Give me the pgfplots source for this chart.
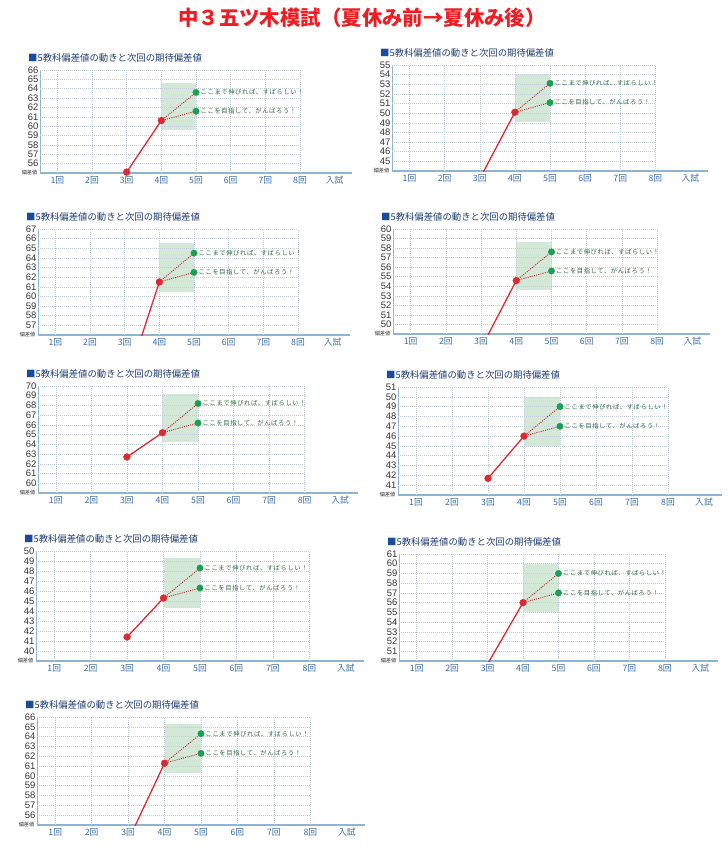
\documentclass[border=0pt]{standalone}
\usepackage{pgfplots}
\pgfplotsset{compat=1.18}
\usepackage{fontspec}
\setmainfont{Liberation Sans}
\newfontfamily\cjk{Noto Sans CJK JP}
\newfontfamily\cjksp{Noto Sans CJK JP}[LetterSpace=10]
\definecolor{gridc}{HTML}{C3CEDA}
\definecolor{axc}{HTML}{8FB3D3}
\definecolor{redc}{HTML}{DD2A30}
\definecolor{grc}{HTML}{17A04F}
\definecolor{boxc}{HTML}{D4E8D7}
\definecolor{txtg}{HTML}{2F6A3D}
\definecolor{xlab}{HTML}{3A6CA3}
\definecolor{ttl}{HTML}{1E3C70}
\definecolor{sq}{HTML}{1A4C9E}
\definecolor{titlered}{HTML}{EE1D23}
\definecolor{ylab}{HTML}{333333}
\pgfplotsset{
 panel/.style={anchor=north west, scale only axis, xmin=0.5, xmax=9.5,
  axis lines*=left,
  x axis line style={axc, line width=1.6bp},
  y axis line style={axc, line width=0.9bp},
  xtick={1,...,9},
  xticklabels={1回,2回,3回,4回,5回,6回,7回,8回,入試},
  major tick length=0,
  /pgf/number format/assume math mode=true,
  xticklabel style={font=\cjk\fontsize{8.8}{9}\selectfont, text=xlab},
  yticklabel style={font=\fontsize{9.5}{9.5}\selectfont, text=ylab, inner sep=1.5bp},
 },
}
\tikzset{
 gridl/.style={gridc, line width=0.5bp, dash pattern=on 1bp off 1bp},
 redl/.style={color=redc, line width=1.3bp, no marks},
 dotl/.style={color=redc!85!black, line width=0.9bp, dash pattern=on 1bp off 1.2bp, no marks},
 redm/.style={only marks, mark=*, mark size=3.4bp, color=redc},
 grm/.style={only marks, mark=*, mark size=3.2bp, color=grc},
 lab/.style={anchor=west, xshift=3.5bp, inner sep=1bp, font=\cjksp\fontsize{6.3}{6.5}\selectfont, text=txtg},
 ptitle/.style={anchor=west, inner sep=0pt, font=\cjk\fontsize{9.4}{10}\selectfont, text=ttl},
 hens/.style={anchor=east, inner sep=0.5bp, xshift=-2bp, font=\cjk\fontsize{5.2}{5.5}\selectfont, text=ylab},
}
\newcommand\grid[3]{%
 \pgfplotsinvokeforeach{1,...,8}{\draw[gridl] (axis cs:##1,#1) -- (axis cs:##1,#3);}%
 \pgfplotsinvokeforeach{#2,...,#3}{\draw[gridl] (axis cs:0.5,##1) -- (axis cs:8,##1);}%
}
\newcommand\ptitle[1]{\node[ptitle] at ([xshift=-12bp,yshift=12bp]#1.north west) {\textcolor{sq}{■}5教科偏差値の動きと次回の期待偏差値};
 \node[hens] at (#1.south west) {偏差値};}
\begin{document}
\begin{tikzpicture}
\useasboundingbox (0,0) rectangle (728bp,-852bp);
\node[font=\cjk\bfseries\fontsize{20.5}{21}\selectfont, text=titlered] at (362bp,-18bp) {中３五ツ木模試（夏休み前→夏休み後）};

% P1
\begin{axis}[panel, name=p1, at={(40bp,-70bp)}, width=312bp, height=103bp, ymin=55, ymax=66, ytick={56,...,66}]
\addplot[draw=none, fill=boxc] coordinates {(4,59.6) (5,59.6) (5,64.6) (4,64.6)};
\grid{55}{56}{66}
\addplot[redl] coordinates {(3,55.1) (4,60.6)};
\addplot[dotl] coordinates {(5,63.6) (4,60.6) (5,61.6)};
\addplot[redm] coordinates {(3,55.1) (4,60.6)};
\addplot[grm] coordinates {(5,63.6) (5,61.6)};
\node[lab] at (axis cs:5,63.6) {ここまで伸びれば、すばらしい！};
\node[lab] at (axis cs:5,61.6) {ここを目指して、がんばろう！};
\end{axis}
\ptitle{p1}

% P2
\begin{axis}[panel, name=p2, at={(392bp,-65bp)}, width=316bp, height=106bp, ymin=44, ymax=55, ytick={45,...,55}]
\addplot[draw=none, fill=boxc] coordinates {(4,49.1) (5,49.1) (5,54.1) (4,54.1)};
\grid{44}{45}{55}
\addplot[redl] coordinates {(3,43.2) (4,50.1)};
\addplot[dotl] coordinates {(5,53.1) (4,50.1) (5,51.1)};
\addplot[redm] coordinates {(4,50.1)};
\addplot[grm] coordinates {(5,53.1) (5,51.1)};
\node[lab] at (axis cs:5,53.1) {ここまで伸びれば、すばらしい！};
\node[lab] at (axis cs:5,51.1) {ここを目指して、がんばろう！};
\end{axis}
\ptitle{p2}

% P3
\begin{axis}[panel, name=p3, at={(38bp,-229bp)}, width=312bp, height=106bp, ymin=56, ymax=67, ytick={57,...,67}]
\addplot[draw=none, fill=boxc] coordinates {(4,60.5) (5,60.5) (5,65.5) (4,65.5)};
\grid{56}{57}{67}
\addplot[redl] coordinates {(3,50.5) (4,61.5)};
\addplot[dotl] coordinates {(5,64.5) (4,61.5) (5,62.5)};
\addplot[redm] coordinates {(4,61.5)};
\addplot[grm] coordinates {(5,64.5) (5,62.5)};
\node[lab] at (axis cs:5,64.5) {ここまで伸びれば、すばらしい！};
\node[lab] at (axis cs:5,62.5) {ここを目指して、がんばろう！};
\end{axis}
\ptitle{p3}

% P4
\begin{axis}[panel, name=p4, at={(393bp,-229bp)}, width=317bp, height=105bp, ymin=49, ymax=60, ytick={50,...,60}]
\addplot[draw=none, fill=boxc] coordinates {(4,53.6) (5,53.6) (5,58.6) (4,58.6)};
\grid{49}{50}{60}
\addplot[redl] coordinates {(3,47.5) (4,54.6)};
\addplot[dotl] coordinates {(5,57.6) (4,54.6) (5,55.6)};
\addplot[redm] coordinates {(4,54.6)};
\addplot[grm] coordinates {(5,57.6) (5,55.6)};
\node[lab] at (axis cs:5,57.6) {ここまで伸びれば、すばらしい！};
\node[lab] at (axis cs:5,55.6) {ここを目指して、がんばろう！};
\end{axis}
\ptitle{p4}

% P5
\begin{axis}[panel, name=p5, at={(38bp,-386bp)}, width=320bp, height=107bp, ymin=59, ymax=70, ytick={60,...,70}]
\addplot[draw=none, fill=boxc] coordinates {(4,64.2) (5,64.2) (5,69.2) (4,69.2)};
\grid{59}{60}{70}
\addplot[redl] coordinates {(3,62.7) (4,65.2)};
\addplot[dotl] coordinates {(5,68.2) (4,65.2) (5,66.2)};
\addplot[redm] coordinates {(3,62.7) (4,65.2)};
\addplot[grm] coordinates {(5,68.2) (5,66.2)};
\node[lab] at (axis cs:5,68.2) {ここまで伸びれば、すばらしい！};
\node[lab] at (axis cs:5,66.2) {ここを目指して、がんばろう！};
\end{axis}
\ptitle{p5}

% P6
\begin{axis}[panel, name=p6, at={(398bp,-387bp)}, width=324bp, height=108bp, ymin=40, ymax=51, ytick={41,...,51}]
\addplot[draw=none, fill=boxc] coordinates {(4,45.0) (5,45.0) (5,50.0) (4,50.0)};
\grid{40}{41}{51}
\addplot[redl] coordinates {(3,41.7) (4,46.0)};
\addplot[dotl] coordinates {(5,49.0) (4,46.0) (5,47.0)};
\addplot[redm] coordinates {(3,41.7) (4,46.0)};
\addplot[grm] coordinates {(5,49.0) (5,47.0)};
\node[lab] at (axis cs:5,49.0) {ここまで伸びれば、すばらしい！};
\node[lab] at (axis cs:5,47.0) {ここを目指して、がんばろう！};
\end{axis}
\ptitle{p6}

% P7
\begin{axis}[panel, name=p7, at={(36bp,-551bp)}, width=328bp, height=110bp, ymin=39, ymax=50, ytick={40,...,50}]
\addplot[draw=none, fill=boxc] coordinates {(4,44.3) (5,44.3) (5,49.3) (4,49.3)};
\grid{39}{40}{50}
\addplot[redl] coordinates {(3,41.4) (4,45.3)};
\addplot[dotl] coordinates {(5,48.3) (4,45.3) (5,46.3)};
\addplot[redm] coordinates {(3,41.4) (4,45.3)};
\addplot[grm] coordinates {(5,48.3) (5,46.3)};
\node[lab] at (axis cs:5,48.3) {ここまで伸びれば、すばらしい！};
\node[lab] at (axis cs:5,46.3) {ここを目指して、がんばろう！};
\end{axis}
\ptitle{p7}

% P8
\begin{axis}[panel, name=p8, at={(399bp,-554bp)}, width=319bp, height=107bp, ymin=50, ymax=61, ytick={51,...,61}]
\addplot[draw=none, fill=boxc] coordinates {(4,55.0) (5,55.0) (5,60.0) (4,60.0)};
\grid{50}{51}{61}
\addplot[redl] coordinates {(3,49.7) (4,56.0)};
\addplot[dotl] coordinates {(5,59.0) (4,56.0) (5,57.0)};
\addplot[redm] coordinates {(4,56.0)};
\addplot[grm] coordinates {(5,59.0) (5,57.0)};
\node[lab] at (axis cs:5,59.0) {ここまで伸びれば、すばらしい！};
\node[lab] at (axis cs:5,57.0) {ここを目指して、がんばろう！};
\end{axis}
\ptitle{p8}

% P9
\begin{axis}[panel, name=p9, at={(37bp,-717bp)}, width=328bp, height=108bp, ymin=55, ymax=66, ytick={56,...,66}]
\addplot[draw=none, fill=boxc] coordinates {(4,60.3) (5,60.3) (5,65.3) (4,65.3)};
\grid{55}{56}{66}
\addplot[redl] coordinates {(3,53.4) (4,61.3)};
\addplot[dotl] coordinates {(5,64.3) (4,61.3) (5,62.3)};
\addplot[redm] coordinates {(4,61.3)};
\addplot[grm] coordinates {(5,64.3) (5,62.3)};
\node[lab] at (axis cs:5,64.3) {ここまで伸びれば、すばらしい！};
\node[lab] at (axis cs:5,62.3) {ここを目指して、がんばろう！};
\end{axis}
\ptitle{p9}
\end{tikzpicture}
\end{document}
